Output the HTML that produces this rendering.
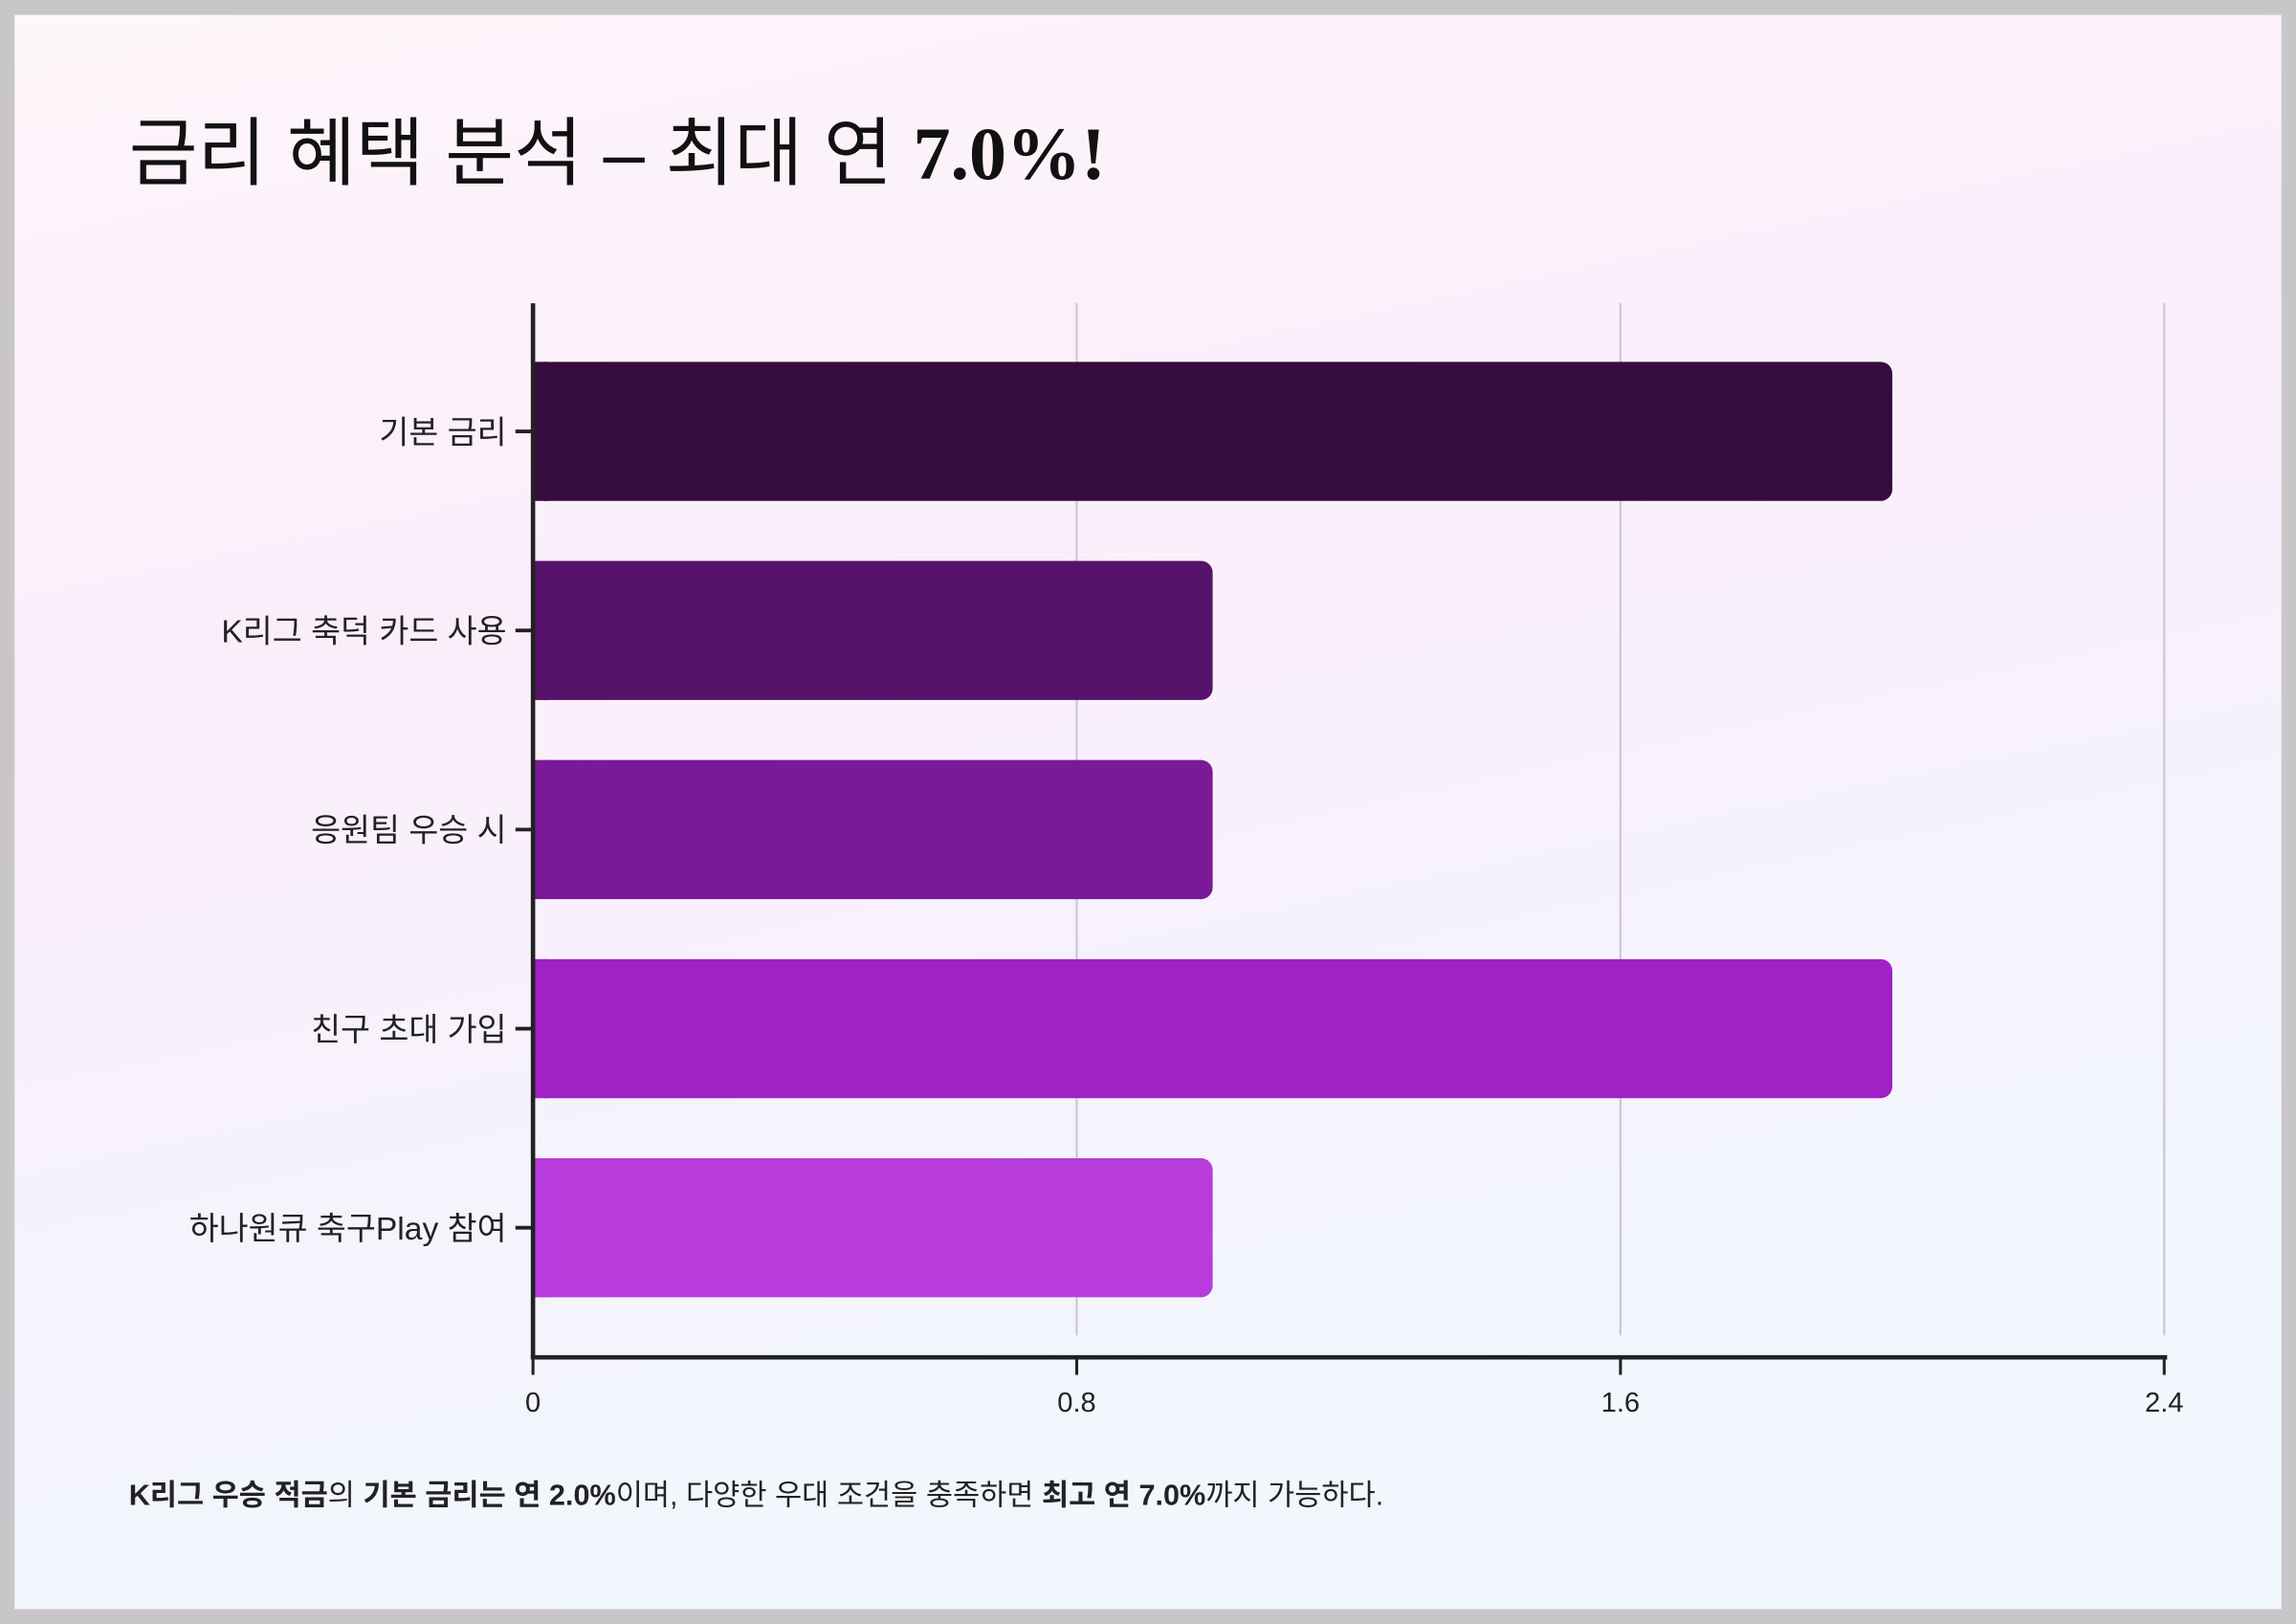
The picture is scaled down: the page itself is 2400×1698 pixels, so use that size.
<!DOCTYPE html>
<html><head><meta charset="utf-8">
<style>
html,body{margin:0;padding:0;width:2400px;height:1698px;overflow:hidden;background:#c9c6c9;}
svg{display:block;font-family:"Liberation Sans","Noto Sans CJK KR",sans-serif;}
</style></head>
<body>
<svg id="chart" width="2400" height="1698" viewBox="0 0 1568 1109" xmlns="http://www.w3.org/2000/svg">
<defs>
<linearGradient id="bg" x1="0" y1="0" x2="0.3" y2="1">
<stop offset="0" stop-color="#fdf6fa"/>
<stop offset="0.4" stop-color="#fbeefb"/>
<stop offset="1" stop-color="#f1f7fd"/>
</linearGradient>
</defs>
<rect x="0" y="0" width="1568" height="1109" fill="#c9c6c9"/>
<rect x="10" y="10" width="1548" height="1089" fill="url(#bg)"/>
<text x="88" y="122" font-size="51" fill="#111">금리 혜택 분석 – 최대 연 <tspan font-family="Liberation Serif,serif" font-weight="bold">7.0%!</tspan></text>
<g id="grid"></g>
<g id="bars"></g>
<g id="axes"></g>
<text x="88" y="1028" font-size="20" fill="#222"><tspan font-weight="bold">K리그 우승 적금</tspan>의 <tspan font-weight="bold">기본 금리는 연 2.0%</tspan>이며, 다양한 우대 조건을 충족하면 <tspan font-weight="bold">최고 연 7.0%</tspan>까지 가능하다.</text>
</svg>
<script>
const categories = ["기본 금리","K리그 축덕 카드 사용","응원팀 우승 시","친구 초대 가입","하나원큐 축구Play 참여"];
const values = [2.0, 1.0, 1.0, 2.0, 1.0];
const tickValues = [0, 0.8, 1.6, 2.4];
const tickLabels = ["0","0.8","1.6","2.4"];
const colors = ["#360c3f","#551268","#7a1a96","#a021c4","#b83bdc"];

const NS="http://www.w3.org/2000/svg";
const x0=364, x1=1478, yTop=207, yBot=927, bandTop=247, band=136, barH=95, xMax=2.4;
const xs=v=>x0+(v/xMax)*(x1-x0);
function mk(tag,attrs,parent){const e=document.createElementNS(NS,tag);for(const k in attrs)e.setAttribute(k,attrs[k]);parent.appendChild(e);return e;}
const grid=document.getElementById('grid'), bars=document.getElementById('bars'), axes=document.getElementById('axes');
tickValues.forEach((t,i)=>{
  if(t>0){const g=mk('line',{x1:xs(t),x2:xs(t),y1:yTop,y2:yBot-15,stroke:'#d0c8d4','stroke-width':1.5},grid);
  
  }
  const tk=mk('line',{x1:xs(t),x2:xs(t),y1:yBot,y2:yBot+12,stroke:'#222','stroke-width':2},axes);
  
  
  const tl=mk('text',{x:xs(t),y:yBot+37,'font-size':19,fill:'#222','text-anchor':'middle'},axes);
  tl.textContent=tickLabels[i];
  
  
});
categories.forEach((c,i)=>{
  const y=bandTop+i*band;
  const r=mk('rect',{x:x0,y:y,width:xs(values[i])-x0,height:barH,rx:8,fill:colors[i]},bars);
  
  
  mk('rect',{x:x0,y:y,width:10,height:barH,fill:colors[i]},bars);
  const cy=y+barH/2;
  const tk=mk('line',{x1:x0-12,x2:x0,y1:cy,y2:cy,stroke:'#222','stroke-width':2.5},axes);
  
  
  const lb=mk('text',{x:x0-18,y:cy+8,'font-size':22,fill:'#222','text-anchor':'end'},axes);
  lb.textContent=c;
  
  
});
const ya=mk('line',{x1:x0,x2:x0,y1:yTop,y2:yBot+1,stroke:'#222','stroke-width':3},axes);


const xa=mk('line',{x1:x0-1.5,x2:x1+2,y1:yBot,y2:yBot,stroke:'#222','stroke-width':3},axes);


</script>
</body></html>
